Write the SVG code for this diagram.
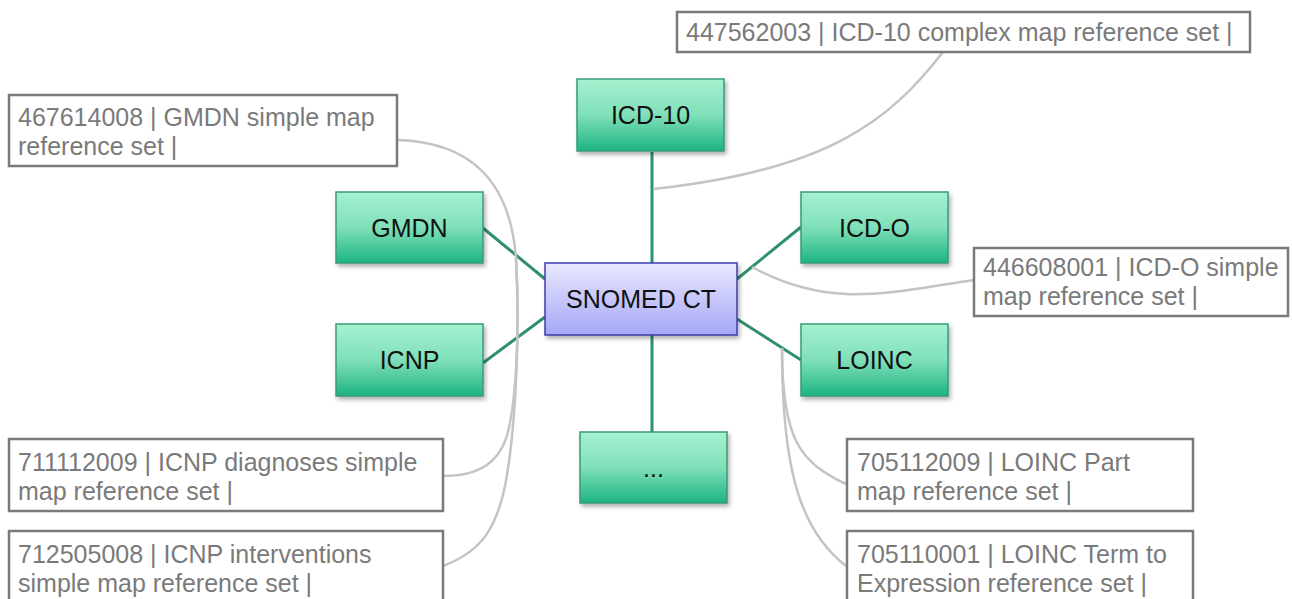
<svg xmlns="http://www.w3.org/2000/svg" width="1292" height="599" viewBox="0 0 1292 599">
  <defs>
    <linearGradient id="gGreen" x1="0" y1="0" x2="0" y2="1">
      <stop offset="0" stop-color="#a6f1d1"/>
      <stop offset="0.5" stop-color="#7fe0b9"/>
      <stop offset="1" stop-color="#1db381"/>
    </linearGradient>
    <linearGradient id="gBlue" x1="0" y1="0" x2="0" y2="1">
      <stop offset="0" stop-color="#e8e8ff"/>
      <stop offset="1" stop-color="#a6a6f6"/>
    </linearGradient>
    <filter id="shadow" x="-10%" y="-10%" width="130%" height="140%">
      <feDropShadow dx="2" dy="3" stdDeviation="2" flood-color="#000" flood-opacity="0.3"/>
    </filter>
  </defs>
  <style>
    .node rect.g { fill: url(#gGreen); stroke: #3a9a77; stroke-width: 1.5; filter: url(#shadow); }
    .node rect.b { fill: url(#gBlue); stroke: #3c3cae; stroke-width: 1.5; filter: url(#shadow); }
    .node text { font-family: "Liberation Sans", Arial, sans-serif; font-size: 25px; fill: #111; text-anchor: middle; }
    .label rect { fill: #fff; stroke: #7a7a7a; stroke-width: 2.5; }
    .label text { font-family: "Liberation Sans", Arial, sans-serif; font-size: 25px; fill: #7a7a7a; }
    .edge { stroke: #2f8f6e; stroke-width: 3; fill: none; }
    .ref { stroke: #c4c4c4; stroke-width: 2.5; fill: none; }
  </style>
  <rect width="1292" height="599" fill="#fff"/>

  <g id="connectors">
    <line class="edge" x1="652" y1="152" x2="652" y2="263"/>
    <line class="edge" x1="652" y1="335" x2="652" y2="432"/>
    <line class="edge" x1="483" y1="228" x2="545" y2="279"/>
    <line class="edge" x1="483" y1="363" x2="545" y2="317"/>
    <line class="edge" x1="737" y1="279" x2="801" y2="227"/>
    <line class="edge" x1="737" y1="319" x2="801" y2="360"/>
    <path class="ref" d="M943,52 C890,120 830,170 653,189"/>
    <path class="ref" d="M974,280 C890,292 830,310 752,267"/>
    <path class="ref" d="M397,140 C470,142 510,180 516,258"/>
    <path class="ref" d="M516,258 C520,330 516,400 508,432 C500,462 480,476 443,476"/>
    <path class="ref" d="M516,258 C520,330 516,420 507,475 C498,530 480,552 443,566"/>
    <path class="ref" d="M782,348 C782,440 800,462 846,484"/>
    <path class="ref" d="M782,348 C782,470 800,530 846,566"/>
  </g>

  <g id="node-icd10" class="node">
    <rect class="g" x="577" y="79" width="147" height="72"/>
    <text x="650.5" y="124">ICD-10</text>
  </g>
  <g id="node-gmdn" class="node">
    <rect class="g" x="336" y="192" width="147" height="71"/>
    <text x="409.5" y="237">GMDN</text>
  </g>
  <g id="node-icnp" class="node">
    <rect class="g" x="336" y="324" width="147" height="72"/>
    <text x="409.5" y="369">ICNP</text>
  </g>
  <g id="node-icdo" class="node">
    <rect class="g" x="801" y="192" width="147" height="71"/>
    <text x="874.5" y="237">ICD-O</text>
  </g>
  <g id="node-loinc" class="node">
    <rect class="g" x="801" y="324" width="147" height="72"/>
    <text x="874.5" y="369">LOINC</text>
  </g>
  <g id="node-more" class="node">
    <rect class="g" x="580" y="432" width="147" height="71"/>
    <text x="653.5" y="477">...</text>
  </g>
  <g id="node-snomed" class="node">
    <rect class="b" x="545" y="263" width="192" height="72"/>
    <text x="641" y="308">SNOMED CT</text>
  </g>

  <g id="label-icd10" class="label">
    <rect x="677" y="12" width="573" height="40"/>
    <text x="686" y="41">447562003 | ICD-10 complex map reference set |</text>
  </g>
  <g id="label-gmdn" class="label">
    <rect x="9" y="95" width="388" height="71"/>
    <text x="18" y="126">467614008 | GMDN simple map</text>
    <text x="18" y="155">reference set |</text>
  </g>
  <g id="label-icdo" class="label">
    <rect x="974" y="248" width="314" height="68"/>
    <text x="983" y="276">446608001 | ICD-O simple</text>
    <text x="983" y="305">map reference set |</text>
  </g>
  <g id="label-icnp-diag" class="label">
    <rect x="9" y="439" width="434" height="72"/>
    <text x="18" y="471">711112009 | ICNP diagnoses simple</text>
    <text x="18" y="500">map reference set |</text>
  </g>
  <g id="label-icnp-int" class="label">
    <rect x="9" y="531" width="434" height="74"/>
    <text x="18" y="563">712505008 | ICNP interventions</text>
    <text x="18" y="592">simple map reference set |</text>
  </g>
  <g id="label-loinc-part" class="label">
    <rect x="847" y="439" width="346" height="72"/>
    <text x="857" y="471">705112009 | LOINC Part</text>
    <text x="857" y="500">map reference set |</text>
  </g>
  <g id="label-loinc-term" class="label">
    <rect x="847" y="531" width="346" height="74"/>
    <text x="857" y="563">705110001 | LOINC Term to</text>
    <text x="857" y="592">Expression reference set |</text>
  </g>
</svg>
